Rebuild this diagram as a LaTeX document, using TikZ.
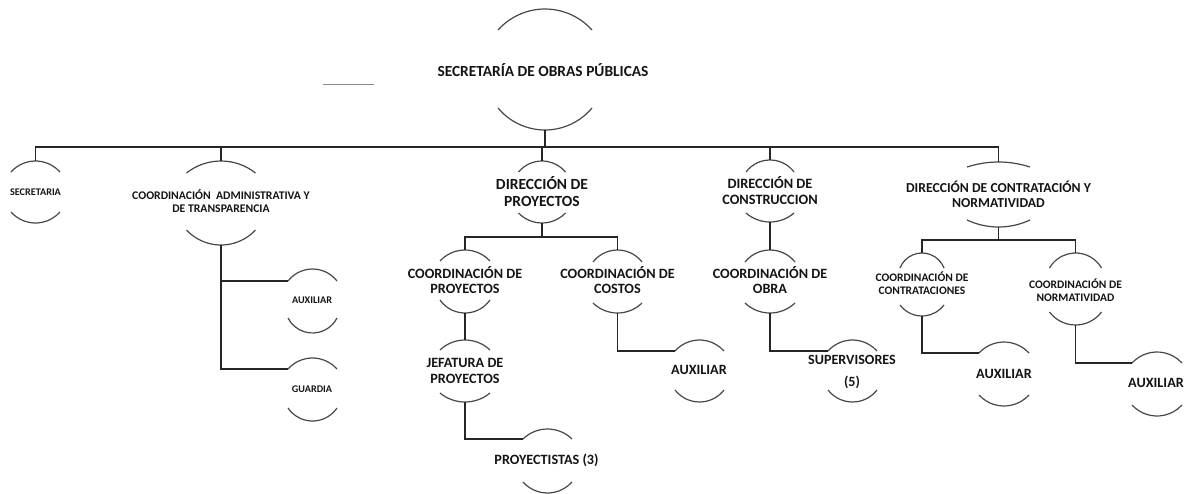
\documentclass[tikz,border=0pt]{standalone}
\usepackage{fontspec}
\setmainfont{Carlito}
\newcommand\orgtoparc[4]{% cx, half width, y of ends, y of apex
  \pgfmathsetmacro\oaS{#3-#4}%
  \pgfmathsetmacro\oaR{(#2*#2+\oaS*\oaS)/(2*\oaS)}%
  \pgfmathsetmacro\oaT{asin(#2/\oaR)}%
  \draw[arcl] ({#1-#2},#3) arc[start angle={270-\oaT}, end angle={270+\oaT}, radius=\oaR];
}
\newcommand\orgbotarc[4]{% cx, half width, y of ends, y of bottom
  \pgfmathsetmacro\oaS{#4-#3}%
  \pgfmathsetmacro\oaR{(#2*#2+\oaS*\oaS)/(2*\oaS)}%
  \pgfmathsetmacro\oaT{asin(#2/\oaR)}%
  \draw[arcl] ({#1-#2},#3) arc[start angle={90+\oaT}, end angle={90-\oaT}, radius=\oaR];
}
% name, cx, half width, top apex, top ends, bottom ends, bottom apex
\newcommand\orgunit[7]{%
  \coordinate (#1-t) at (#2,#4);
  \coordinate (#1-b) at (#2,#7);
  \coordinate (#1-l) at ({#2-#3},#5);
  \orgtoparc{#2}{#3}{#5}{#4}
  \orgbotarc{#2}{#3}{#6}{#7}
}
\begin{document}
\begin{tikzpicture}[x=1pt,y=-1pt,
  conn/.style={line width=1.3pt, draw=black!85},
  arcl/.style={line width=1.2pt, draw=black!72},
  lbl/.style={align=center, inner sep=0pt, text=black!92},
  fbig/.style={font=\bfseries\fontsize{14.2}{15}\selectfont},
  fsmall/.style={font=\bfseries\fontsize{10.2}{12}\selectfont},
  fmid/.style={font=\bfseries\fontsize{11.5}{13}\selectfont}]
\useasboundingbox (0,0) rectangle (1188,493);

% units (arcs)
\orgunit{top}{545}{47}{9}{30}{108}{130}
\orgunit{sec}{35.5}{24.5}{161}{172}{212}{223}
\orgunit{cat}{221}{34.5}{161}{173}{230}{245}
\orgunit{aux1}{312.5}{24.5}{269}{281}{318}{333}
\orgunit{gua}{312.5}{24.5}{358}{369}{408}{421}
\orgunit{dp}{542}{23.5}{161}{172}{213}{223}
\orgunit{cp}{465}{25}{250}{261}{300}{313}
\orgunit{cco}{617.5}{24.5}{250}{262}{303}{313}
\orgunit{jef}{465}{25}{340}{350}{393}{402}
\orgunit{pry}{547.5}{24.5}{429}{439}{482}{493}
\orgunit{aux2}{699.5}{24.5}{340}{351}{390}{402}
\orgunit{dc}{770}{24}{160}{172}{213}{222}
\orgunit{co}{770}{25}{250}{262}{303}{313}
\orgunit{sup}{852.5}{24.5}{340}{351}{390}{402}
\orgunit{dcn}{998.5}{31.5}{162}{167}{220}{227}
\orgunit{cc}{922}{22}{253}{268}{305}{316}
\orgunit{aux3}{1004}{25}{342}{353}{395}{406}
\orgunit{cn}{1075.5}{26}{253}{268}{312}{325}
\orgunit{aux4}{1157}{25}{352}{363}{405}{416}

% labels
\node[lbl, font=\bfseries\fontsize{15.4}{17}\selectfont] (ntop) at (543,70) {SECRETARÍA DE OBRAS PÚBLICAS};
\node[lbl, fsmall] (nsec) at (35.5,192) {SECRETARIA};
\node[lbl, font=\bfseries\fontsize{11.7}{12.5}\selectfont] (ncat) at (221,201) {COORDINACIÓN\ \ ADMINISTRATIVA Y\\DE TRANSPARENCIA};
\node[lbl, fsmall] (naux1) at (312,300) {AUXILIAR};
\node[lbl, fsmall] (ngua) at (312,389) {GUARDIA};
\node[lbl, font=\bfseries\fontsize{15.5}{17}\selectfont] (ndp) at (542,191.5) {DIRECCIÓN DE\\PROYECTOS};
\node[lbl, fbig] (ncp) at (465,280.5) {COORDINACIÓN DE\\PROYECTOS};
\node[lbl, fbig] (ncco) at (617.5,280.5) {COORDINACIÓN DE\\COSTOS};
\node[lbl, font=\bfseries\fontsize{14.2}{16}\selectfont] (njef) at (465,371) {JEFATURA DE\\PROYECTOS};
\node[lbl, fbig] (npry) at (546.5,460) {PROYECTISTAS (3)};
\node[lbl, fbig] (naux2) at (699,370) {AUXILIAR};
\node[lbl, font=\bfseries\fontsize{14.3}{16}\selectfont] (ndc) at (770,191) {DIRECCIÓN DE\\CONSTRUCCION};
\node[lbl, fbig] (nco) at (770,280.5) {COORDINACIÓN DE\\OBRA};
\node[lbl, font=\bfseries\fontsize{14.1}{22}\selectfont] (nsup) at (852,372) {SUPERVISORES\\(5)};
\node[lbl, font=\bfseries\fontsize{13.7}{15}\selectfont] (ndcn) at (998.5,194.5) {DIRECCIÓN DE CONTRATACIÓN Y\\NORMATIVIDAD};
\node[lbl, fmid] (ncc) at (922,283.5) {COORDINACIÓN DE\\CONTRATACIONES};
\node[lbl, fbig] (naux3) at (1004,374) {AUXILIAR};
\node[lbl, fmid] (ncn) at (1075.5,290.5) {COORDINACIÓN DE\\NORMATIVIDAD};
\node[lbl, fbig] (naux4) at (1156,383) {AUXILIAR};

% stray grey stroke beside the title
\coordinate (gl) at (323,84);
\coordinate (gr) at (374,84);
\draw[line width=1pt, draw=black!45] (gl) -- (gr);

% connectors
\coordinate (bus1) at (545,147);
\coordinate (bus2) at (542,237);
\coordinate (bus3) at (998.5,240);
\draw[conn] (top-b) -- (bus1);
\draw[conn] (sec-t) |- (bus1) -| (dcn-t);
\draw[conn] (bus1 -| cat-t) -- (cat-t);
\draw[conn] (bus1 -| dp-t) -- (dp-t);
\draw[conn] (bus1 -| dc-t) -- (dc-t);
\draw[conn] (cat-b) |- (aux1-l);
\draw[conn] (cat-b) |- (gua-l);
\draw[conn] (dp-b) -- (bus2);
\draw[conn] (cp-t) |- (bus2) -| (cco-t);
\draw[conn] (cp-b) -- (jef-t);
\draw[conn] (jef-b) |- (pry-l);
\draw[conn] (cco-b) |- (aux2-l);
\draw[conn] (dc-b) -- (co-t);
\draw[conn] (co-b) |- (sup-l);
\draw[conn] (dcn-b) -- (bus3);
\draw[conn] (cc-t) |- (bus3) -| (cn-t);
\draw[conn] (cc-b) |- (aux3-l);
\draw[conn] (cn-b) |- (aux4-l);
\end{tikzpicture}
\end{document}
